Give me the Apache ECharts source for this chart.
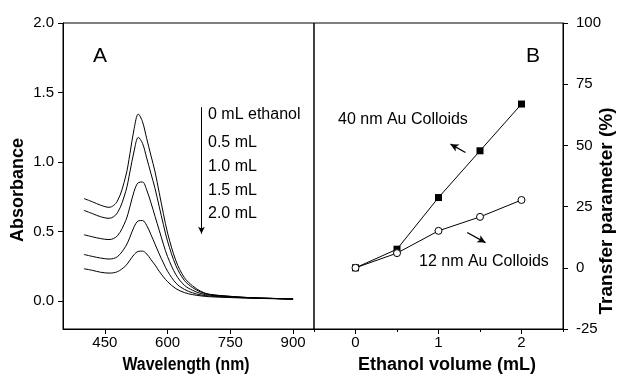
<!DOCTYPE html>
<html>
<head>
<meta charset="utf-8">
<script src="https://cdn.jsdelivr.net/npm/echarts@6/dist/echarts.min.js"></script>
<style>
html,body{margin:0;padding:0;background:#fff;}
#chart{width:617px;height:380px;}
</style>
</head>
<body>
<div id="chart"></div>
<script>
// ---------- Panel A data ----------
const wavelengths = [400,420,440,460,480,500,510,520,530,540,550,560,570,580,590,600,620,640,660,680,700,750,800,850,900];
const abs0mL  = [0.738,0.715,0.690,0.675,0.720,0.900,1.060,1.240,1.345,1.290,1.170,1.050,0.930,0.780,0.630,0.490,0.290,0.170,0.110,0.070,0.050,0.035,0.025,0.020,0.015];
const abs05mL = [0.653,0.630,0.607,0.596,0.635,0.790,0.930,1.080,1.177,1.135,1.030,0.920,0.810,0.680,0.550,0.430,0.255,0.150,0.097,0.065,0.048,0.034,0.025,0.020,0.015];
const abs10mL = [0.478,0.463,0.450,0.443,0.470,0.580,0.680,0.790,0.852,0.857,0.800,0.710,0.610,0.510,0.410,0.320,0.190,0.115,0.078,0.055,0.043,0.032,0.024,0.020,0.015];
const abs15mL = [0.336,0.322,0.310,0.303,0.320,0.395,0.460,0.535,0.577,0.580,0.545,0.480,0.410,0.340,0.275,0.215,0.130,0.085,0.060,0.045,0.037,0.029,0.023,0.019,0.015];
const abs20mL = [0.233,0.222,0.208,0.202,0.212,0.255,0.295,0.335,0.358,0.360,0.340,0.300,0.260,0.215,0.175,0.140,0.090,0.062,0.047,0.038,0.032,0.026,0.021,0.018,0.015];
const curveLabels = ['0 mL ethanol','0.5 mL','1.0 mL','1.5 mL','2.0 mL'];
const wavelengthTicks = [450,600,750,900];
const absorbanceTicks = [0,0.5,1.0,1.5,2.0];

// ---------- Panel B data ----------
const ethanolVolume = [0,0.5,1,1.5,2];
const transfer40nm = [0,7.6,28.7,47.8,66.9];
const transfer12nm = [0,6.0,15.1,20.8,27.7];
const volumeTicks = [0,1,2];
const volumeMinorTicks = [-0.5,0.5,1.5,2.5];

const FONT = '"Liberation Sans", Arial, sans-serif';
const chart = echarts.init(document.getElementById('chart'), null, {renderer:'canvas'});

const absCurves = [abs0mL, abs05mL, abs10mL, abs15mL, abs20mL];
const lineSeriesA = absCurves.map((arr, i) => ({
  type:'line', xAxisIndex:0, yAxisIndex:0, name: curveLabels[i],
  data: wavelengths.map((w, j) => [w, arr[j]]),
  showSymbol:false, smooth:0.35,
  lineStyle:{color:'#000', width:1}, silent:true, z:3
}));

const axisLineStyle = {show:true, onZero:false, lineStyle:{color:'#000', width:1}};
const tickLabel = {color:'#000', fontFamily:FONT, fontSize:15};

const option = {
  backgroundColor:'#fff',
  animation:false,
  grid:[
    {left:63, top:23, width:251, height:306, show:true, borderColor:'#000', borderWidth:1},
    {left:314, top:23, width:249, height:306, show:true, borderColor:'#000', borderWidth:1}
  ],
  xAxis:[
    {gridIndex:0, type:'value', min:350, max:950, position:'bottom',
     axisLine:axisLineStyle, splitLine:{show:false},
     axisTick:{show:true, inside:false, length:5, customValues:wavelengthTicks, lineStyle:{color:'#000'}},
     axisLabel:{...tickLabel, margin:6, customValues:wavelengthTicks}},
    {gridIndex:1, type:'value', min:-0.5, max:2.5, position:'bottom',
     axisLine:axisLineStyle, splitLine:{show:false},
     axisTick:{show:true, inside:false, length:5, customValues:volumeTicks, lineStyle:{color:'#000'}},
     axisLabel:{...tickLabel, margin:6, customValues:volumeTicks, formatter:v=>String(v)}},
    {gridIndex:1, type:'value', min:-0.5, max:2.5, position:'bottom',
     axisLine:{show:false, onZero:false}, splitLine:{show:false},
     axisTick:{show:true, inside:false, length:3, customValues:volumeMinorTicks, lineStyle:{color:'#000'}},
     axisLabel:{show:false}}
  ],
  yAxis:[
    {gridIndex:0, type:'value', min:-0.2, max:2.0, position:'left',
     axisLine:axisLineStyle, splitLine:{show:false},
     axisTick:{show:true, inside:false, length:5, customValues:absorbanceTicks, lineStyle:{color:'#000'}},
     axisLabel:{...tickLabel, margin:9, customValues:absorbanceTicks, formatter:v=>v.toFixed(1)}},
    {gridIndex:1, type:'value', min:-25, max:100, interval:25, position:'right',
     axisLine:axisLineStyle, splitLine:{show:false},
     axisTick:{show:true, inside:false, length:5, lineStyle:{color:'#000'}},
     axisLabel:{...tickLabel, margin:13}}
  ],
  series:[
    ...lineSeriesA,
    {type:'line', xAxisIndex:0, yAxisIndex:0, data:[], silent:true,
     markLine:{silent:true, symbol:['none','arrow'], symbolSize:[5,7], label:{show:false},
       lineStyle:{color:'#000', width:1, type:'solid'},
       data:[[{coord:[681,1.395]},{coord:[681,0.485]}]]}},
    {type:'line', xAxisIndex:1, yAxisIndex:1, name:'40 nm Au Colloids',
     data: ethanolVolume.map((v,i)=>[v, transfer40nm[i]]),
     symbol:'rect', symbolSize:7, showSymbol:true,
     itemStyle:{color:'#000'}, lineStyle:{color:'#000', width:1}, z:3,
     markLine:{silent:true, symbol:['none','arrow'], symbolSize:[6,8], label:{show:false},
       lineStyle:{color:'#000', width:1.3, type:'solid'},
       data:[[{coord:[1.325,47.1]},{coord:[1.145,50.5]}],
             [{coord:[1.346,14.4]},{coord:[1.566,10.3]}]]}},
    {type:'line', xAxisIndex:1, yAxisIndex:1, name:'12 nm Au Colloids',
     data: ethanolVolume.map((v,i)=>[v, transfer12nm[i]]),
     symbol:'circle', symbolSize:7, showSymbol:true,
     itemStyle:{color:'#fff', borderColor:'#000', borderWidth:1}, lineStyle:{color:'#000', width:1}, z:4}
  ],
  graphic:[
    {type:'text', left:93, top:46, style:{text:'A', font:'21px '+FONT, fill:'#000'}},
    {type:'text', left:526, top:46, style:{text:'B', font:'21px '+FONT, fill:'#000'}},
    ...curveLabels.map((t,i)=>({type:'text', x:208, y:[115,143,167,191,214][i],
       style:{text:t, font:'16px '+FONT, fill:'#000', verticalAlign:'middle'}})),
    {type:'text', x:338, y:120, style:{text:'40 nm Au Colloids', font:'16px '+FONT, fill:'#000', verticalAlign:'middle'}},
    {type:'text', x:419, y:262, style:{text:'12 nm Au Colloids', font:'16px '+FONT, fill:'#000', verticalAlign:'middle'}},
    {type:'text', x:18, y:190, rotation:Math.PI/2,
     style:{text:'Absorbance', font:'bold 18px '+FONT, fill:'#000', align:'center', verticalAlign:'middle'}},
    {type:'text', x:186, y:365, scaleX:0.88,
     style:{text:'Wavelength (nm)', font:'bold 18px '+FONT, fill:'#000', align:'center', verticalAlign:'middle'}},
    {type:'text', x:447, y:365,
     style:{text:'Ethanol volume (mL)', font:'bold 18px '+FONT, fill:'#000', align:'center', verticalAlign:'middle'}},
    {type:'text', x:607, y:211, rotation:Math.PI/2,
     style:{text:'Transfer parameter (%)', font:'bold 19px '+FONT, fill:'#000', align:'center', verticalAlign:'middle'}}
  ]
};
chart.setOption(option);
</script>
</body>
</html>
